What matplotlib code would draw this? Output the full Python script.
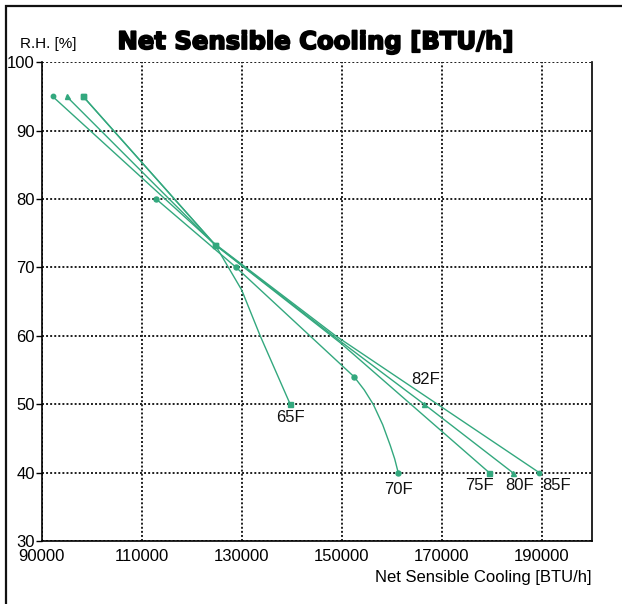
import matplotlib
matplotlib.use("Agg")
import matplotlib.pyplot as plt
import matplotlib.patheffects as pe
from matplotlib.patches import Rectangle

plt.rcParams['font.family'] = ['Liberation Sans', 'DejaVu Sans']

# net sensible cooling [BTU/h] vs relative humidity [%]
t65_x = [98300, 124700, 130000, 133700, 139700]
t65_y = [95, 73.3, 66.7, 60, 50]
t70_x = [112900, 128900, 152500, 154500, 156300, 158200, 159700, 160600, 161300]
t70_y = [80, 70, 54, 52.1, 50, 47, 44, 42, 40]
t75_x = [98300, 124700, 149700, 179500]
t75_y = [95, 73.3, 59, 40]
t80_x = [95000, 124400, 149200, 166500, 184200]
t80_y = [95, 73.5, 59.5, 50, 40]
t85_x = [92200, 124000, 148800, 189500]
t85_y = [95, 73.8, 60, 40]

x_ticks = [90000, 110000, 130000, 150000, 170000, 190000]
y_ticks = [30, 40, 50, 60, 70, 80, 90, 100]

green = '#33a87e'

fig = plt.figure(figsize=(6.22, 6.04), dpi=100)
ax = fig.add_axes([41.7 / 622, 1 - 541 / 604, 550 / 622, 478.7 / 604])

ax.plot(t85_x, t85_y, color=green, lw=1.0, marker='o', ms=3.2, markevery=[0, 3])
ax.plot(t80_x, t80_y, color=green, lw=1.0, marker='^', ms=3.6, markevery=[0, 3, 4])
ax.plot(t75_x, t75_y, color=green, lw=1.0, marker='s', ms=3.6, markevery=[0, 1, 3])
ax.plot(t65_x, t65_y, color=green, lw=1.0, marker='s', ms=3.6, markevery=[0, 1, 4])
ax.plot(t70_x, t70_y, color=green, lw=1.0, marker='o', ms=3.6, markevery=[0, 1, 2, 8])

lab = dict(fontsize=12, color='#111111', ha='center', va='center')
ax.text(139700, 48.0, '65F', **lab)
ax.text(161300, 37.5, '70F', **lab)
ax.text(177500, 38.1, '75F', **lab)
ax.text(185500, 38.1, '80F', **lab)
ax.text(193000, 38.1, '85F', **lab)
ax.text(166800, 53.6, '82F', **lab)

ax.set_xlim(90000, 200000)
ax.set_ylim(30, 100)
ax.set_xticks(x_ticks)
ax.set_yticks(y_ticks)
ax.tick_params(axis='x', length=0, pad=6, labelsize=12)
ax.tick_params(axis='y', length=4, width=1, pad=1, labelsize=12)
ax.grid(True, color='#1e1e1e', lw=1.4, linestyle=(0, (1, 1.1)))
ax.spines['top'].set_visible(False)
for s in ['left', 'bottom', 'right']:
    ax.spines[s].set_linewidth(1.2)

ax.set_xlabel('Net Sensible Cooling [BTU/h]', fontsize=12, loc='right', labelpad=4)

fig.text(20 / 622, 1 - 44 / 604, 'R.H. [%]', fontsize=11, va='center', ha='left')
fig.text(315 / 622, 1 - 42 / 604, 'Net Sensible Cooling [BTU/h]', fontsize=17.5,
         family='DejaVu Sans', fontweight='bold', ha='center', va='center',
         path_effects=[pe.withStroke(linewidth=1.3, foreground='black')])

fig.patches.append(Rectangle((6 / 622, -0.2), 1.2, 1.2 - 6 / 604, transform=fig.transFigure,
                             fill=False, lw=1.6, edgecolor='#111111'))

fig.savefig('out.png', dpi=100)
